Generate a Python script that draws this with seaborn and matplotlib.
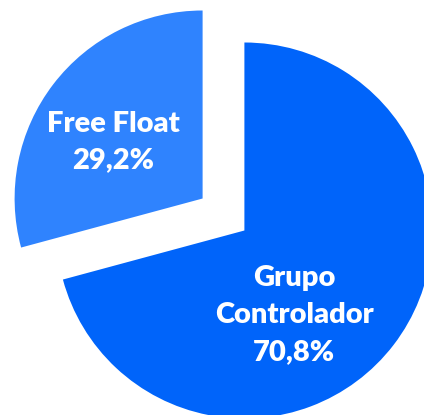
import matplotlib
matplotlib.use("Agg")
import matplotlib.pyplot as plt
import seaborn as sns

sns.set_theme(style="white")
plt.rcParams['font.family'] = ['Lato', 'DejaVu Sans']

categories = ["Grupo\nControlador", "Free Float"]
values = [70.8, 29.2]
value_labels = ["70,8%", "29,2%"]
colors = ["#0064FA", "#2F83FE"]

fig = plt.figure(figsize=(4.24, 4.15), dpi=100)
ax = fig.add_axes([0, 0, 1, 1])
wedges, _ = ax.pie(values, startangle=90, counterclock=False, colors=colors,
                   explode=[0.14, 0.14], radius=1.0,
                   wedgeprops=dict(linewidth=0))
ax.set_xlim(-223.5 / 188, (424 - 223.5) / 188)
ax.set_ylim(-(415 - 214.5) / 188, 214.5 / 188)
ax.set_aspect('equal')
ax.axis('off')

# label positions (data units)
label_pos = [(0.376, -0.535), (-0.585, 0.385)]
for (x, y), name, val in zip(label_pos, categories, value_labels):
    ax.text(x, y, f"{name}\n{val}", ha='center', va='center', color='white',
            fontsize=21, fontweight='heavy', linespacing=1.52)

fig.savefig("out.png", dpi=100)
